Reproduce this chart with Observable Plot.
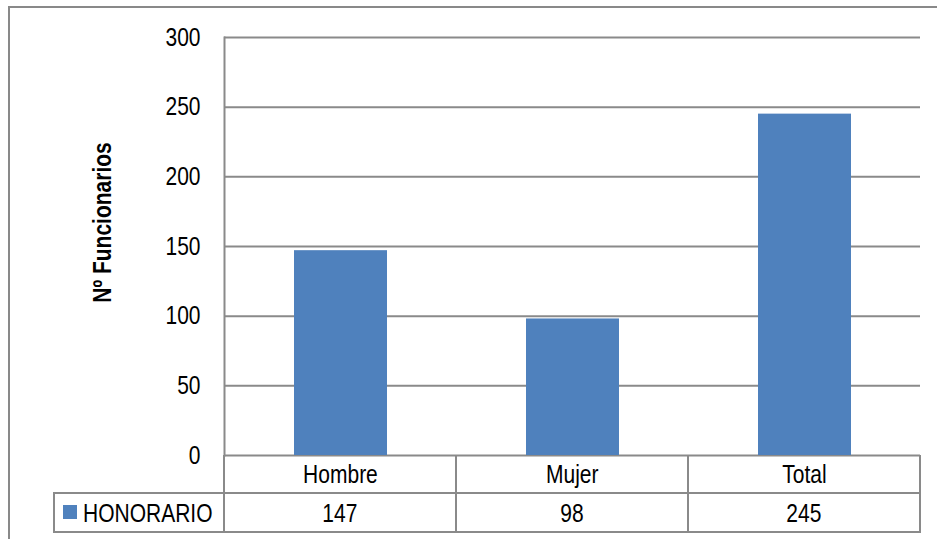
<!DOCTYPE html>
<html>
<head>
<meta charset="utf-8">
<script src="https://cdn.jsdelivr.net/npm/d3@7"></script>
<script src="https://cdn.jsdelivr.net/npm/@observablehq/plot@0.6"></script>
<style>
  html, body { margin: 0; padding: 0; background: #fff; width: 937px; height: 539px; overflow: hidden; }
  body { position: relative; font-family: "Liberation Sans", Arial, sans-serif; }
  #frame { position: absolute; left: 8px; top: 6px; width: 945px; height: 560px; border: 2px solid #898989; box-sizing: border-box; }
  #chart { position: absolute; left: 0; top: 0; }
  .ln { position: absolute; background: #8a8a8a; }
  .cell { position: absolute; display: flex; align-items: center; justify-content: center; font-size: 25px; color: #000; white-space: nowrap; }
  .cell span { display: inline-block; transform: scaleX(0.84); transform-origin: center; }
  .cell.key { justify-content: flex-start; }
  .cell.key span { transform-origin: left center; }
  .sw { position: absolute; width: 14px; height: 14px; background: #4F81BD; }
</style>
</head>
<body>
<div id="frame"></div>
<div id="chart"></div>
<div id="tbl"></div>
<script>
const categories = ["Hombre", "Mujer", "Total"];
const honorario = [147, 98, 245];
const seriesName = "HONORARIO";
const yTicks = [0, 50, 100, 150, 200, 250, 300];
const yTitle = "Nº Funcionarios";

const data = categories.map((c, i) => ({category: c, value: honorario[i]}));
const W = 937, mL = 224, mR = 17, mT = 37, plotBottom = 455;
const squeeze = 0.84;

const chart = Plot.plot({
  width: W,
  height: plotBottom + 5,
  marginLeft: mL,
  marginRight: mR,
  marginTop: mT,
  marginBottom: 5,
  style: {fontFamily: '"Liberation Sans", Arial, sans-serif', fontSize: "25px", color: "#000", background: "transparent", overflow: "visible"},
  x: {domain: categories, paddingInner: 0.6, paddingOuter: 0.3, axis: null},
  y: {domain: [0, 300], ticks: yTicks, label: null},
  marks: [
    Plot.ruleY(yTicks, {stroke: "#8a8a8a", strokeWidth: 2, strokeOpacity: 1}),
    Plot.barY(data, {x: "category", y: "value", fill: "#4F81BD"}),
    Plot.frame({anchor: "left", stroke: "#8a8a8a", strokeWidth: 2, strokeOpacity: 1}),
    Plot.axisY({ticks: yTicks, tickSize: 0, tickPadding: 24, label: null, fontSize: 25}),
    Plot.text([yTitle], {frameAnchor: "left", text: d => d, rotate: -90, dx: -122, dy: -24,
      textAnchor: "middle", lineAnchor: "middle", fontWeight: "bold", fontSize: 25, fill: "#000"})
  ]
});
// narrow the Arial-like glyphs to match the condensed face of the original
d3.select(chart).selectAll("text").each(function() {
  const t = this.getAttribute("transform") || "";
  this.setAttribute("transform", (t + ` scale(${squeeze},1)`).trim());
});
document.getElementById("chart").appendChild(chart);

// data table under the plot
const tbl = document.getElementById("tbl");
const xs = chart.scale("x");
const colW = xs.step;
const left0 = 54, row1B = 493, row2B = 532;
const edges = categories.map((c, i) => mL + i * colW);
const right = mL + categories.length * colW;
function line(x, y, w, h) {
  const d = document.createElement("div"); d.className = "ln";
  Object.assign(d.style, {left: x + "px", top: y + "px", width: w + "px", height: h + "px"});
  tbl.appendChild(d);
}
function cell(x, y, w, h, html, cls) {
  const d = document.createElement("div"); d.className = "cell" + (cls ? " " + cls : "");
  Object.assign(d.style, {left: x + "px", top: y + "px", width: w + "px", height: h + "px"});
  d.innerHTML = html; tbl.appendChild(d);
}
line(left0 - 1, row1B - 1, right - left0 + 2, 2);
line(left0 - 1, row2B - 1, right - left0 + 2, 2);
line(left0 - 1, row1B - 1, 2, row2B - row1B + 2);
[...edges, right].forEach(x => line(x - 1, plotBottom, 2, row2B - plotBottom + 1));
categories.forEach((c, i) => cell(edges[i], plotBottom + 1, colW, row1B - plotBottom - 1, `<span>${c}</span>`));
honorario.forEach((v, i) => cell(edges[i], row1B + 1, colW, row2B - row1B - 1, `<span>${v}</span>`));
const sw = document.createElement("div"); sw.className = "sw";
Object.assign(sw.style, {left: "63px", top: "505px"}); tbl.appendChild(sw);
cell(83, row1B + 1, mL - 83, row2B - row1B - 1, `<span>${seriesName}</span>`, "key");
</script>
</body>
</html>
